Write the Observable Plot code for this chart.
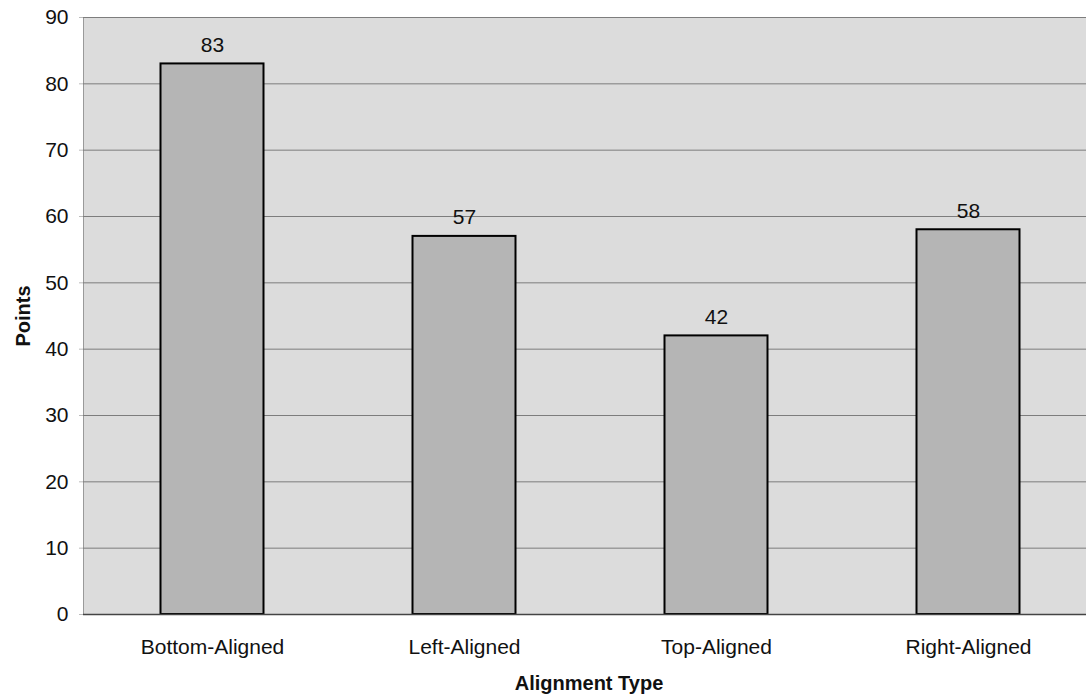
<!DOCTYPE html>
<html>
<head>
<meta charset="utf-8">
<script src="https://cdn.jsdelivr.net/npm/d3@7"></script>
<script src="https://cdn.jsdelivr.net/npm/@observablehq/plot@0.6"></script>
<style>
  html, body { margin: 0; padding: 0; background: #fff; overflow: hidden; }
  #chart svg { display: block; max-width: none !important; }
</style>
</head>
<body>
<div id="chart"></div>
<script>
// Points scored for each alignment type
const categories = ["Bottom-Aligned", "Left-Aligned", "Top-Aligned", "Right-Aligned"];
const points = [83, 57, 42, 58];
const yTicks = [0, 10, 20, 30, 40, 50, 60, 70, 80, 90];

const data = categories.map((c, i) => ({type: c, points: points[i]}));

const font = "'Liberation Sans', Arial, Helvetica, sans-serif";

const chart = Plot.plot({
  width: 1094,
  height: 700,
  marginLeft: 83,
  marginRight: 0,
  marginTop: 17,
  marginBottom: 86,
  style: {fontFamily: font, fontSize: "21px", color: "#111", background: "#fff"},
  x: {
    domain: categories,
    range: [85, 1094],
    padding: 0,
    label: "Alignment Type",
    labelAnchor: "center",
    labelArrow: false,
    labelOffset: 75,
    tickSize: 0,
    tickPadding: 25
  },
  y: {
    domain: [0, 90],
    ticks: yTicks,
    label: "Points",
    labelAnchor: "center",
    labelArrow: false,
    labelOffset: 68,
    tickSize: 4,
    tickPadding: 11
  },
  marks: [
    Plot.frame({fill: "#dcdcdc", stroke: "#9a9a9a"}),
    Plot.gridY(yTicks, {stroke: "#7d7d7d", strokeOpacity: 1, strokeWidth: 1}),
    Plot.barY(data, {
      x: "type",
      y: "points",
      fill: "#b5b5b5",
      stroke: "#000",
      strokeWidth: 2,
      insetLeft: 74.5,
      insetRight: 74.5
    }),
    Plot.ruleY([0], {stroke: "#444", strokeWidth: 1.5}),
    Plot.text(data, {
      x: "type",
      y: "points",
      text: d => String(d.points),
      dy: -19,
      fontSize: 21,
      fill: "#111"
    })
  ]
});

// Bold axis titles
d3.select(chart).selectAll("[aria-label='x-axis label'] text, [aria-label='y-axis label'] text")
  .attr("font-weight", "bold")
  .attr("font-size", 20);
d3.select(chart).selectAll("[aria-label='y-axis tick'] path").attr("stroke", "#bbb");

document.getElementById("chart").appendChild(chart);
</script>
</body>
</html>
